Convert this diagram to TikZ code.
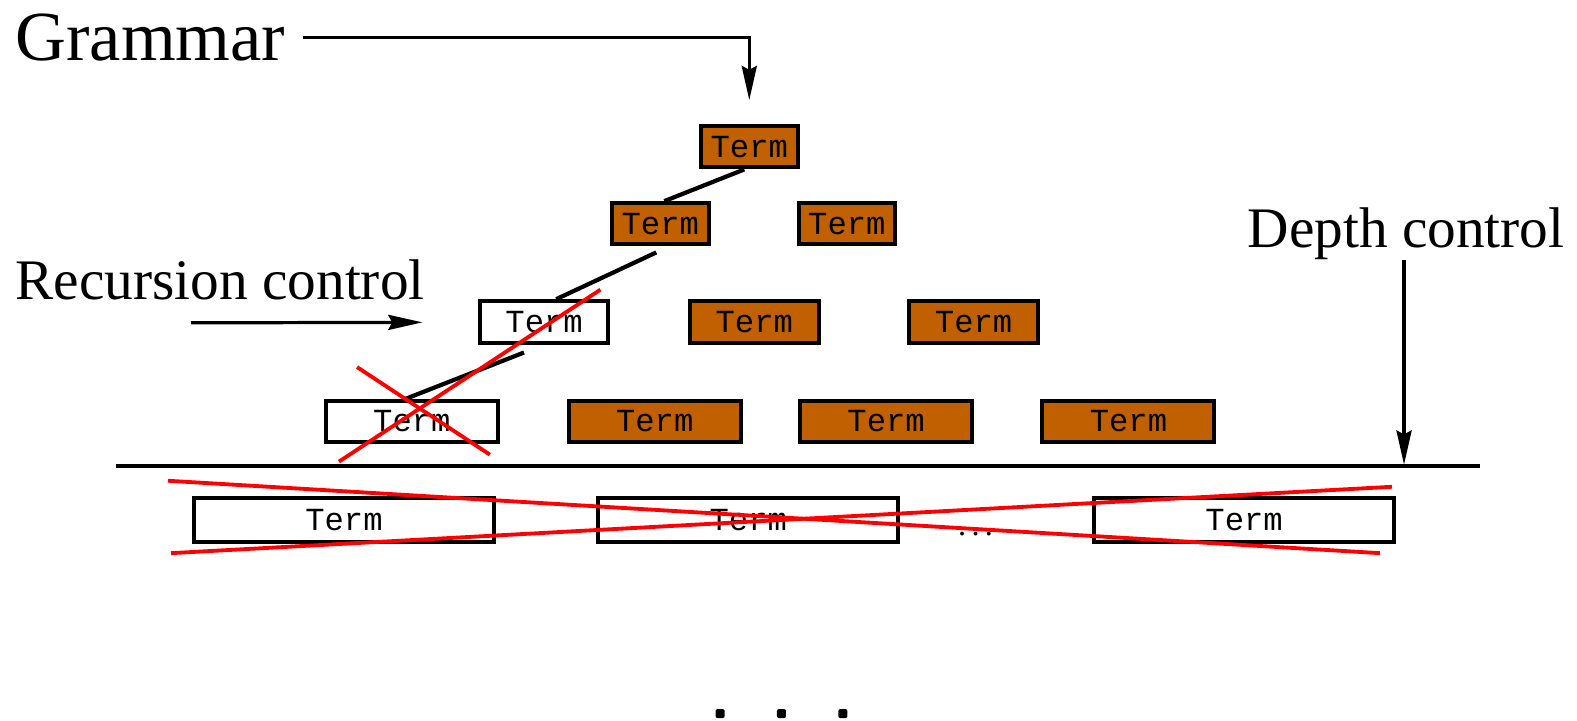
\documentclass[tikz,border=0pt]{standalone}
\usepackage{fontspec}
\setmainfont{Liberation Serif}
\setmonofont{Liberation Mono}
\usetikzlibrary{arrows.meta}
\definecolor{termbrown}{RGB}{192,96,0}

\begin{document}
\begin{tikzpicture}[x=0.5pt, y=-0.5pt,
        term/.style={rectangle, draw=black, line width=2pt, inner sep=0pt, font=\fontsize{16}{18}\selectfont\ttfamily},
        kept/.style={term, fill=termbrown},
        pruned/.style={term, fill=white},
        lvtop/.style={minimum width=48pt, minimum height=20.5pt},
        lvmid/.style={minimum width=64pt, minimum height=21pt},
        lvlow/.style={minimum width=85.5pt, minimum height=20.5pt},
        lvcut/.style={minimum width=149pt, minimum height=21.5pt},
        ctrl/.style={inner sep=0pt, font=\fontsize{28.5}{32}\selectfont},
        arrow/.style={-{Stealth[length=17pt, width=7.5pt, inset=2pt]}, line width=1.6pt},
        link/.style={line width=2.1pt},
        strike/.style={draw=red, line width=1.9pt}]

        \useasboundingbox (0,0) rectangle (1568,716);

        \node (t0) [kept, lvtop] at (745,146) {Term};
        \node (r2a) [kept, lvtop] at (656.5,222.5) {Term};
        \node (r2b) [kept, lvtop] at (842,222.5) {Term};
        \node (r3a) [pruned, lvmid] at (541,320.5) {Term};
        \node (r3b) [kept, lvmid] at (750,320.5) {Term};
        \node (r3c) [kept, lvmid] at (968,320.5) {Term};
        \node (r4a) [pruned, lvlow] at (409.5,419) {Term};
        \node (r4b) [kept, lvlow] at (651,419) {Term};
        \node (r4c) [kept, lvlow] at (881,419) {Term};
        \node (r4d) [kept, lvlow] at (1122,419) {Term};
        \node (b1) [pruned, lvcut] at (342,517) {Term};
        \node (b2) [pruned, lvcut] at (744,517) {Term};
        \node (b3) [pruned, lvcut] at (1237,517) {Term};
        \node (gap) [anchor=base, font=\fontsize{16}{18}\selectfont] at (970,532) {.\,.\,.};

        \node (grammar) [ctrl, font=\fontsize{35}{40}\selectfont, anchor=base west] at (15,60) {Grammar};
        \node (recursion) [ctrl, anchor=base west] at (15,298) {Recursion control};
        \node (depth) [ctrl, anchor=base east] at (1556,246) {Depth control};

        \coordinate (recfrom) at (190,321);
        \coordinate (depthto) at (1396,462);
        \coordinate (cutL) at (115,463);
        \coordinate (cutR) at (1472,463);

        \draw [link] ([xshift=-2.5pt]t0.south) -- ([xshift=2pt]r2a.north);
        \draw [link] ([xshift=-2pt, yshift=-3pt]r2a.south) -- ([xshift=6pt]r3a.north);
        \draw [link] ([xshift=-10pt, yshift=-3.5pt]r3a.south) -- ([xshift=-3pt]r4a.north);
        \draw [link] (cutL) -- (cutR);

        \draw [arrow] ([xshift=8.5pt]grammar.east) -| ([yshift=12pt]t0.north);
        \draw [arrow] (recfrom) -- ([xshift=-27.5pt]r3a.west);
        \draw [arrow] (depth.south -| depthto) -- (depthto);

        \draw [strike] (355,365) -- (487,452);
        \draw [strike] (337,459) -- (597,288);
        \draw [strike] (167,478) -- (1372,550);
        \draw [strike] (170,550) -- (1384,484);

        \foreach \x in {716,777,838}
            \fill [rounded corners=1pt] (\x-4.5,705) rectangle ++(9,9);
    \end{tikzpicture}
\end{document}
